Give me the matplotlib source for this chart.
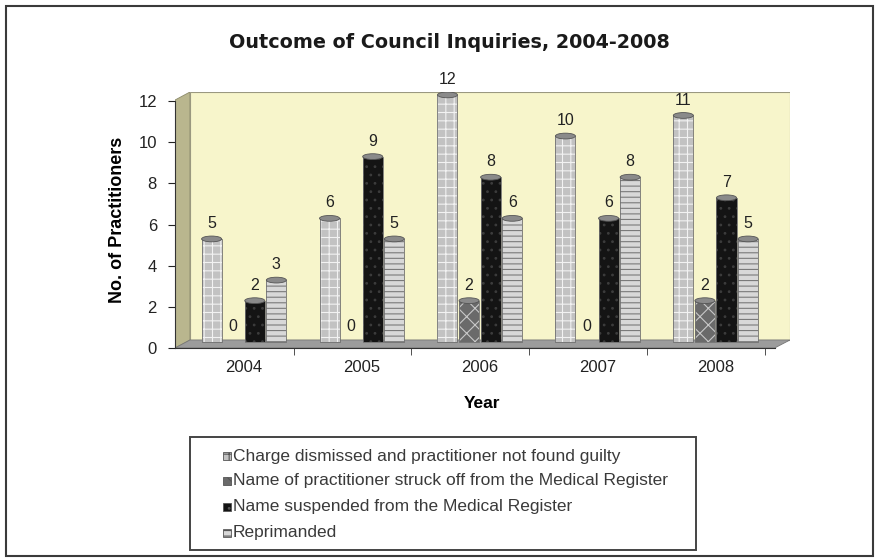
import numpy as np
import matplotlib.pyplot as plt
from matplotlib.patches import Rectangle, Polygon, Ellipse

years = ["2004", "2005", "2006", "2007", "2008"]
series_names = [
    "Charge dismissed and practitioner not found guilty",
    "Name of practitioner struck off from the Medical Register",
    "Name suspended from the Medical Register",
    "Reprimanded",
]
dismissed = [5, 6, 12, 10, 11]
struck_off = [0, 0, 2, 0, 2]
suspended = [2, 9, 8, 6, 7]
reprimanded = [3, 5, 6, 8, 5]
values = [dismissed, struck_off, suspended, reprimanded]

faces = ["#c2c2c2", "#6a6a6a", "#141414", "#d8d8d8"]
hatch_cols = ["#f2f2f2", "#c8c8c8", "#3c3c3c", "#7a7a7a"]
hatches = ["++", "xx", "..", "---"]

plt.rcParams["font.family"] = ["Liberation Sans", "DejaVu Sans"]
plt.rcParams["hatch.linewidth"] = 0.8

W, H = 877, 558
fig = plt.figure(figsize=(W / 100, H / 100), dpi=100)

def fx(px):
    return px / W

def fy(py):
    return 1 - py / H

# outer frame
fig.patches.append(Rectangle((fx(6), fy(556)), fx(867), 550 / H, transform=fig.transFigure,
                             fill=False, edgecolor="#3a3a3a", linewidth=1.5))

ax = fig.add_axes([fx(175), fy(348), fx(790 - 175), (348 - 92) / H])
ax.set_xlim(-0.585, 4.63)
ax.set_ylim(0, 12.44)
ax.patch.set_alpha(0)

# 3D-ish walls
x0, xw, xr, xf = -0.585, -0.458, 4.63, 4.50
fl = 0.39
ax.add_patch(Polygon([(x0, 0), (xw, fl), (xw, 12.44), (x0, 12.05)], closed=True,
                     facecolor="#b9b68e", edgecolor="#8c8a6a", lw=0.6, zorder=0))
ax.add_patch(Polygon([(xw, fl), (xr, fl), (xr, 12.44), (xw, 12.44)], closed=True,
                     facecolor="#f7f5cb", edgecolor="#9a9880", lw=0.8, zorder=0))
ax.add_patch(Polygon([(x0, 0), (xw, fl), (xr, fl), (xf, 0)], closed=True,
                     facecolor="#9c9c9c", edgecolor="#777777", lw=0.6, zorder=0.5))

x = np.arange(len(years))
step = 0.183
bw = 0.17
base = 0.3
for i, vals in enumerate(values):
    xs = x + (i - 1.5) * step
    ax.bar(xs, vals, width=bw, bottom=base, color=faces[i], edgecolor=hatch_cols[i],
           hatch=hatches[i], linewidth=0, zorder=2)
    for xi, v in zip(xs, vals):
        if v > 0:
            ax.add_patch(Rectangle((xi - bw / 2, base), bw, v, fill=False,
                                   edgecolor="#707070", lw=0.6, zorder=2.5))
            ax.add_patch(Ellipse((xi, base + v), bw, 0.28, facecolor="#8a8a8a",
                                 edgecolor="#555555", lw=0.6, zorder=3))
        ax.text(xi, base + v + 0.75, str(v), ha="center", va="center",
                fontsize=11.5, color="#222222", zorder=4)

ax.spines["top"].set_visible(False)
ax.spines["right"].set_visible(False)
ax.spines["left"].set_bounds(0, 12)
ax.spines["bottom"].set_bounds(x0, xf)
ax.spines["left"].set_color("#333333")
ax.spines["bottom"].set_color("#333333")

ax.set_yticks(range(0, 13, 2))
ax.tick_params(axis="y", direction="out", length=5, labelsize=12, colors="#222222", pad=8)
ax.set_xticks(x)
ax.set_xticklabels(years)
ax.tick_params(axis="x", length=0, labelsize=12, colors="#222222", pad=9)
ax.set_xticks(x + 0.42, minor=True)
ax.tick_params(axis="x", which="minor", direction="out", length=5, color="#333333")

ax.set_ylabel("No. of Practitioners", fontsize=13, fontweight="bold", labelpad=9)
ax.set_xlabel("Year", fontsize=12.5, fontweight="bold", labelpad=15)

fig.text(fx(449), fy(43), "Outcome of Council Inquiries, 2004-2008", ha="center", va="center",
         fontsize=13.8, fontweight="bold", family="DejaVu Sans", color="#1a1a1a")

# legend box
fig.patches.append(Rectangle((fx(190), fy(550)), fx(506), 113 / H, transform=fig.transFigure,
                             fill=False, edgecolor="#444444", linewidth=1.4))
row_y = [456, 481, 507, 533]
for i, name in enumerate(series_names):
    fig.patches.append(Rectangle((fx(223), fy(row_y[i] + 4)), fx(8), 8 / H,
                                 transform=fig.transFigure, facecolor=faces[i],
                                 edgecolor="#555555", hatch=hatches[i], linewidth=0.6))
    fig.text(fx(233), fy(row_y[i]), name, ha="left", va="center", fontsize=12.5,
             color="#3a3a3a")

fig.savefig("out.png", dpi=100)
